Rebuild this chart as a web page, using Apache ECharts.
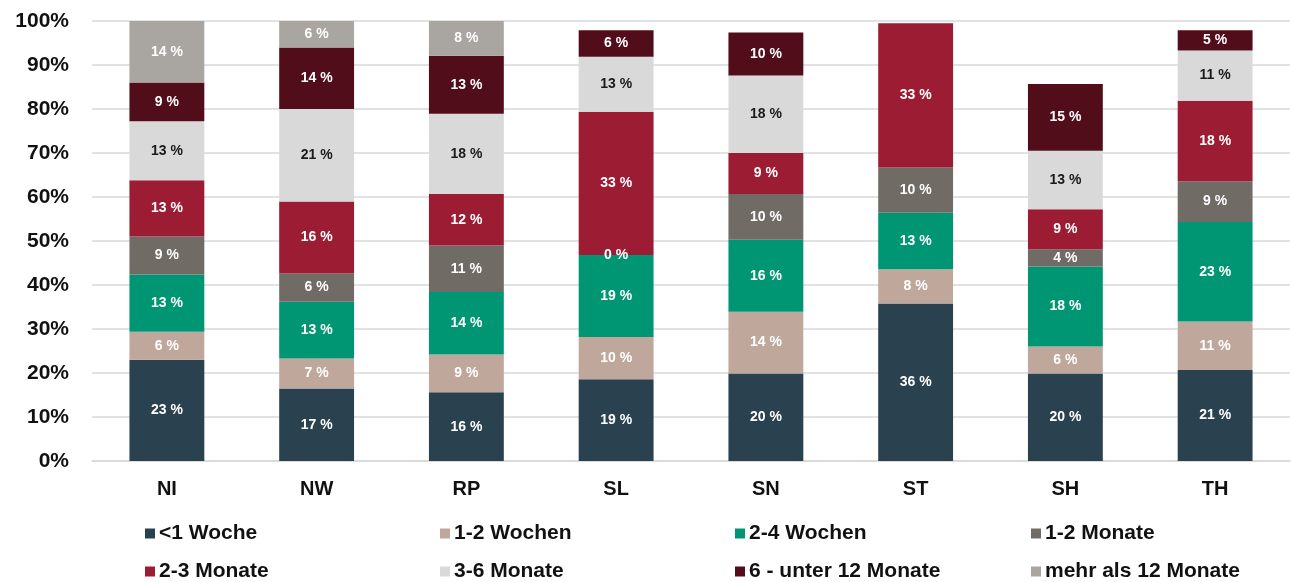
<!DOCTYPE html>
<html>
<head>
<meta charset="utf-8">
<script src="https://cdn.jsdelivr.net/npm/echarts@6/dist/echarts.min.js"></script>
<style>
  html, body { margin: 0; padding: 0; background: #fff; }
  #chart { width: 1295px; height: 582px; }
</style>
</head>
<body>
<div id="chart"></div>
<script>
// Bundeslaender
var categories = ['NI', 'NW', 'RP', 'SL', 'SN', 'ST', 'SH', 'TH']

// Anteile je Dauer (in %), von unten nach oben gestapelt
var lt1Woche = [23, 16.5, 15.6, 18.6, 19.9, 35.8, 19.9, 20.7]
var w1bis2 = [6.4, 6.8, 8.6, 9.6, 14.0, 7.8, 6.1, 11.0]
var w2bis4 = [13.0, 12.9, 14.2, 18.6, 16.4, 12.8, 18.2, 22.6]
var m1bis2 = [8.6, 6.4, 10.6, 0, 10.4, 10.3, 3.9, 9.3]
var m2bis3 = [12.8, 16.4, 11.7, 32.6, 9.3, 32.8, 9.1, 18.3]
var m3bis6 = [13.4, 21.0, 18.2, 12.5, 17.6, null, 13.3, 11.4]
var m6bis12 = [8.8, 14, 13.2, 6.0, 9.8, null, 15.2, 4.6]
var mehr12 = [14, 6, 7.9, null, null, null, null, null]

var yTicks = { min: 0, max: 100, interval: 10 }

var seriesNames = ['<1 Woche', '1-2 Wochen', '2-4 Wochen', '1-2 Monate',
  '2-3 Monate', '3-6 Monate', '6 - unter 12 Monate', 'mehr als 12 Monate']
var seriesData = [lt1Woche, w1bis2, w2bis4, m1bis2, m2bis3, m3bis6, m6bis12, mehr12]
var colors = ['#2a414f', '#bfa89b', '#009673', '#716b66', '#9b1c33', '#d9d9d9', '#520d1a', '#a9a5a0']
var labelColors = ['#fff', '#fff', '#fff', '#fff', '#fff', '#1a1a1a', '#fff', '#fff']

var font = 'Arial, "Liberation Sans", sans-serif'

var mychart = echarts.init(document.getElementById('chart'))

// Legende: 2 Zeilen a 4 Eintraege
var legendX = [145, 440, 735, 1031]
var legendY = [523, 561]
var legends = seriesNames.map(function (name, i) {
  return {
    data: [name],
    left: legendX[i % 4],
    top: legendY[Math.floor(i / 4)],
    padding: 0,
    itemWidth: 10,
    itemHeight: 10,
    icon: 'rect',
    itemGap: 0,
    selectedMode: false,
    textStyle: { fontFamily: font, fontSize: 21, fontWeight: 'bold', color: '#111', padding: [0, 0, 0, -1] }
  }
})

var option = {
  animation: false,
  color: colors,
  grid: { left: 92, right: 5, top: 21, bottom: 121 },
  legend: legends,
  xAxis: {
    type: 'category',
    data: categories,
    axisTick: { show: false },
    axisLine: { lineStyle: { color: '#d9d9d9', width: 1.5 } },
    axisLabel: { fontFamily: font, fontSize: 20, fontWeight: 'bold', color: '#111', margin: 18 }
  },
  yAxis: {
    type: 'value',
    min: yTicks.min,
    max: yTicks.max,
    interval: yTicks.interval,
    axisLine: { show: false },
    axisTick: { show: false },
    splitLine: { lineStyle: { color: '#d9d9d9', width: 1.5 } },
    axisLabel: { formatter: '{value}%', fontFamily: font, fontSize: 21, fontWeight: 'bold', color: '#111', margin: 23 }
  },
  series: seriesNames.map(function (name, i) {
    return {
      name: name,
      type: 'bar',
      stack: 'gesamt',
      barCategoryGap: '50%',
      data: seriesData[i],
      itemStyle: { color: colors[i] },
      label: {
        show: true,
        position: 'inside',
        fontFamily: font,
        fontSize: 14,
        fontWeight: 'bold',
        color: labelColors[i],
        formatter: function (p) {
          return p.value == null ? '' : Math.round(p.value) + ' %'
        }
      }
    }
  })
}
mychart.setOption(option)
</script>
</body>
</html>
